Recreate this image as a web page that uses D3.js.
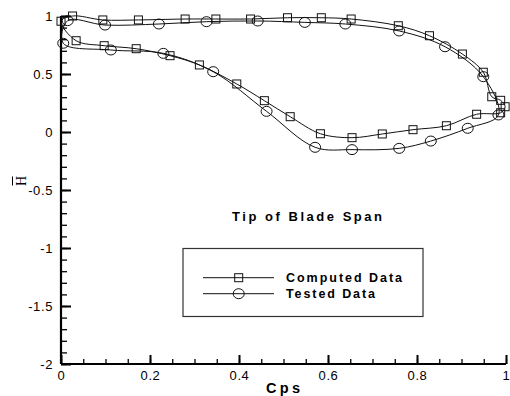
<!DOCTYPE html>
<html><head><meta charset="utf-8">
<script src="https://cdn.jsdelivr.net/npm/d3@7"></script>
<style>body{margin:0;background:#fff}svg{display:block}</style>
</head><body><svg id="c" width="510" height="396"></svg>
<script>
// ---- data ----
const computedX = [0.0, 0.026, 0.094, 0.174, 0.279, 0.348, 0.426, 0.509, 0.585, 0.652, 0.758, 0.828, 0.902, 0.949, 0.968, 0.988, 0.998, 0.988,
                   0.934, 0.866, 0.791, 0.722, 0.654, 0.583, 0.515, 0.457, 0.395, 0.311, 0.245, 0.169, 0.097, 0.034];
const computedY = [0.955, 1.0, 0.966, 0.966, 0.974, 0.974, 0.974, 0.985, 0.985, 0.974, 0.916, 0.83, 0.672, 0.515, 0.304, 0.273, 0.218, 0.166,
                   0.153, 0.054, 0.02, -0.017, -0.049, -0.015, 0.132, 0.27, 0.414, 0.578, 0.658, 0.718, 0.744, 0.787];
const testedX = [0.015, 0.099, 0.22, 0.327, 0.442, 0.548, 0.639, 0.76, 0.863, 0.949, 0.983,
                 0.914, 0.831, 0.76, 0.654, 0.571, 0.462, 0.342, 0.23, 0.112, 0.005];
const testedY = [0.96, 0.922, 0.931, 0.951, 0.957, 0.945, 0.931, 0.871, 0.735, 0.477, 0.147,
                 0.032, -0.078, -0.141, -0.152, -0.132, 0.178, 0.52, 0.678, 0.707, 0.765];
const xTicks = [0, 0.2, 0.4, 0.6, 0.8, 1];
const xTickLabels = ["0", "0.2", "0.4", "0.6", "0.8", "1"];
const yTicks = [1, 0.5, 0, -0.5, -1, -1.5, -2];
const yTickLabels = ["1", "0.5", "0", "-0.5", "-1", "-1.5", "-2"];
const seriesNames = ["Computed Data", "Tested Data"];
const chartTitle = "Tip of Blade Span";
const xLabel = "Cps";
const yLabel = "H";

// ---- drawing ----
const svg = d3.select("#c");
const FONT = "'Liberation Sans', Arial, sans-serif";
const x = d3.scaleLinear().domain([0, 1]).range([61, 506]);
const y = d3.scaleLinear().domain([-2, 1]).range([364, 16]);

// minor ticks
svg.append("g").attr("transform", `translate(0,${y(-2)})`)
  .call(d3.axisBottom(x).tickValues(d3.range(0, 1.0001, 0.05)).tickSize(-5).tickFormat(""))
  .call(g => g.select(".domain").remove())
  .selectAll("line").attr("stroke", "#000").attr("stroke-width", 1.3);
svg.append("g").attr("transform", `translate(${x(0)},0)`)
  .call(d3.axisLeft(y).tickValues(d3.range(-2, 1.0001, 0.1)).tickSize(-6).tickFormat(""))
  .call(g => g.select(".domain").remove())
  .selectAll("line").attr("stroke", "#000").attr("stroke-width", 1.3);

// major ticks
const xa = svg.append("g").attr("transform", `translate(0,${y(-2)})`)
  .call(d3.axisBottom(x).tickValues(xTicks).tickSize(-9).tickSizeOuter(0).tickPadding(13)
    .tickFormat((d, i) => xTickLabels[i]));
xa.select(".domain").attr("stroke", "#000").attr("stroke-width", 2.2).attr("d", `M${x(0)},0H${x(1)}`);
xa.selectAll("line").attr("stroke", "#000").attr("stroke-width", 2);
xa.selectAll("text").attr("font-family", FONT).attr("font-size", 13).attr("fill", "#000")
  .attr("letter-spacing", 0.6).attr("dy", "0.2em");

const ya = svg.append("g").attr("transform", `translate(${x(0)},0)`)
  .call(d3.axisLeft(y).tickValues(yTicks).tickSize(-10).tickSizeOuter(0).tickPadding(18)
    .tickFormat((d, i) => yTickLabels[i]));
ya.select(".domain").attr("stroke", "#000").attr("stroke-width", 2.2).attr("d", `M0,${y(-2)}V${y(1)}`);
ya.selectAll("line").attr("stroke", "#000").attr("stroke-width", 2);
ya.selectAll("text").attr("font-family", FONT).attr("font-size", 13).attr("fill", "#000")
  .attr("letter-spacing", 0.6).attr("x", -8).attr("dy", "0.36em");

// series lines
const line = d3.line().x(d => x(d[0])).y(d => y(d[1])).curve(d3.curveCatmullRomClosed.alpha(0.5));
const compPts = computedX.map((v, i) => [v, computedY[i]]);
const testPts = testedX.map((v, i) => [v, testedY[i]]);
svg.append("path").attr("d", line(compPts)).attr("fill", "none").attr("stroke", "#111").attr("stroke-width", 1);
svg.append("path").attr("d", line(testPts)).attr("fill", "none").attr("stroke", "#111").attr("stroke-width", 1);

// markers
function square(g, cx, cy) {
  g.append("rect").attr("x", cx - 4).attr("y", cy - 4).attr("width", 8).attr("height", 8)
    .attr("fill", "none").attr("stroke", "#111").attr("stroke-width", 1);
}
function circle(g, cx, cy) {
  g.append("ellipse").attr("cx", cx).attr("cy", cy).attr("rx", 5.5).attr("ry", 5)
    .attr("fill", "none").attr("stroke", "#111").attr("stroke-width", 1);
}
const mg = svg.append("g");
compPts.forEach(p => square(mg, x(p[0]), y(p[1])));
testPts.forEach(p => circle(mg, x(p[0]), y(p[1])));

// title
svg.append("text").attr("x", 232).attr("y", 221).attr("font-family", FONT).attr("font-weight", "bold")
  .attr("font-size", 13).attr("textLength", 150).attr("lengthAdjust", "spacing").attr("fill", "#000").text(chartTitle);

// legend
svg.append("rect").attr("x", 183).attr("y", 248.5).attr("width", 240).attr("height", 68)
  .attr("fill", "none").attr("stroke", "#333").attr("stroke-width", 1.2);
const legY = [277.7, 293.7];
const legLen = [116, 89];
seriesNames.forEach((name, i) => {
  svg.append("line").attr("x1", 203).attr("x2", 274).attr("y1", legY[i]).attr("y2", legY[i])
    .attr("stroke", "#111").attr("stroke-width", 1);
  if (i === 0) square(svg, 238.7, legY[i]); else circle(svg, 238.7, legY[i]);
  svg.append("text").attr("x", 286).attr("y", legY[i] + 4.5).attr("font-family", FONT).attr("font-weight", "bold")
    .attr("font-size", 12.5).attr("textLength", legLen[i]).attr("lengthAdjust", "spacing").attr("fill", "#000").text(name);
});

// axis labels
svg.append("text").attr("x", 266).attr("y", 393).attr("font-family", FONT).attr("font-weight", "bold")
  .attr("font-size", 14.5).attr("textLength", 34).attr("lengthAdjust", "spacing").attr("fill", "#000").text(xLabel);
const yl = svg.append("g").attr("transform", "translate(26,181) rotate(-90)");
yl.append("text").attr("text-anchor", "middle").attr("font-family", "'Liberation Serif', 'Times New Roman', serif")
  .attr("font-size", 14).attr("fill", "#000").text(yLabel);
yl.append("line").attr("x1", -4.5).attr("x2", 4.5).attr("y1", -13.5).attr("y2", -13.5).attr("stroke", "#000").attr("stroke-width", 1);
</script></body></html>
